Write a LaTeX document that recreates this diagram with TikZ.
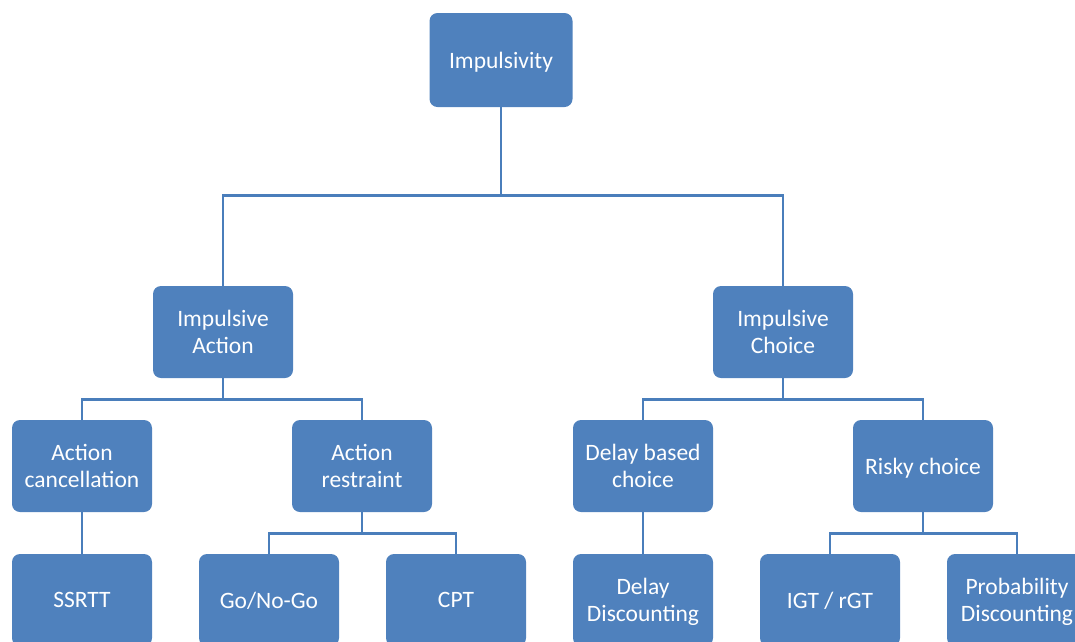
\documentclass[tikz,border=0pt]{standalone}
\usepackage{fontspec}
\setmainfont{Carlito}
\usepackage{tikz}
\usetikzlibrary{positioning}
\definecolor{boxblue}{HTML}{4F81BD}
\definecolor{lineblue}{HTML}{4A7EBB}

\begin{document}
\begin{tikzpicture}[x=1pt,y=-1pt,
  box/.style={draw=none,fill=boxblue,rounded corners=8pt,text=white,align=center,
    minimum width=140pt,minimum height=92pt,inner sep=2pt,text depth=0pt,
    font=\fontsize{23.5}{26.5}\selectfont},
  link/.style={draw=lineblue,line width=2.7pt}]
\useasboundingbox (0,0) rectangle (1075,641);
\clip (0,0) rectangle (1075,641);
% top
\node[box,minimum width=143pt,minimum height=94pt] (imp) at (501,60) {Impulsivity};
% second row
\node[box] (act) at (223,332) {Impulsive\\Action};
\node[box] (cho) at (783,332) {Impulsive\\Choice};
% third row
\node[box] (canc) at (82,466) {Action\\cancellation};
\node[box] (restr) at (362,466) {Action\\restraint};
\node[box] (delay) at (643,466) {Delay based\\choice};
\node[box] (risky) at (923,466) {Risky choice};
% bottom row
\node[box] (ssrtt) at (82,600) {SSRTT};
\node[box] (gonogo) at (269,600) {Go/No-Go};
\node[box] (cpt) at (456,600) {CPT};
\node[box] (delaydisc) at (643,600) {Delay\\Discounting};
\node[box] (igt) at (830,600) {IGT / rGT};
\node[box] (probdisc) at (1017,600) {Probability\\Discounting};
% links
\draw[link] (imp.south) -- ++(0,88) -| (act.north);
\draw[link] (imp.south) -- ++(0,88) -| (cho.north);
\draw[link] (act.south) -- ++(0,21) -| (canc.north);
\draw[link] (act.south) -- ++(0,21) -| (restr.north);
\draw[link] (cho.south) -- ++(0,21) -| (delay.north);
\draw[link] (cho.south) -- ++(0,21) -| (risky.north);
\draw[link] (canc.south) -- (ssrtt.north);
\draw[link] (restr.south) -- ++(0,21) -| (gonogo.north);
\draw[link] (restr.south) -- ++(0,21) -| (cpt.north);
\draw[link] (delay.south) -- (delaydisc.north);
\draw[link] (risky.south) -- ++(0,21) -| (igt.north);
\draw[link] (risky.south) -- ++(0,21) -| (probdisc.north);
\end{tikzpicture}
\end{document}
